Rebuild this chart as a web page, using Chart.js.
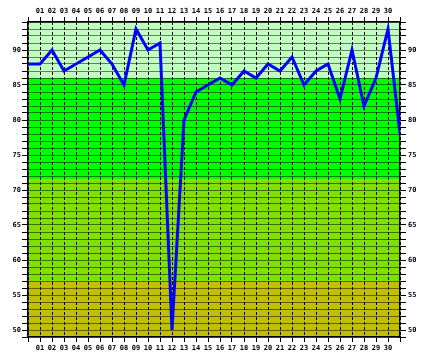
<!DOCTYPE html>
<html>
<head>
<meta charset="utf-8">
<script src="https://cdn.jsdelivr.net/npm/chart.js@4"></script>
<style>
html,body{margin:0;padding:0;background:#fff;}
canvas{display:block;}
</style>
</head>
<body>
<canvas id="c" width="429" height="360"></canvas>
<script>
// ---- data ----
const days = ['01','02','03','04','05','06','07','08','09','10','11','12','13','14','15','16','17','18','19','20','21','22','23','24','25','26','27','28','29','30'];
const values = [88,90,87,88,89,90,88,85,93,90,91,50,80,84,85,86,85,87,86,88,87,89,85,87,88,83,90,82,86,93];
const leadValue = 88;   // value at the left edge (before day 01)
const tailValue = 78;   // value at the right edge (after day 30)
const yMin = 49, yMax = 94;
const bandLimits = [49, 57, 71.5, 86, 94];
const bandColors = ['#c0c000', '#80e000', '#00ff00', '#c0ffc0'];

const points = [{x: 0, y: leadValue}]
  .concat(values.map((v, i) => ({x: i + 1, y: v})))
  .concat([{x: days.length + 1, y: tailValue}]);

const bandPlugin = {
  id: 'bands',
  beforeDraw(chart) {
    const {ctx, chartArea: a, scales: {y}} = chart;
    ctx.save();
    for (let i = 0; i < bandColors.length; i++) {
      const y1 = y.getPixelForValue(bandLimits[i + 1]);
      const y0 = y.getPixelForValue(bandLimits[i]);
      ctx.fillStyle = bandColors[i];
      ctx.fillRect(a.left, y1, a.right - a.left, y0 - y1);
    }
    ctx.restore();
  }
};

const font = {family: 'DejaVu Sans Mono', size: 7, weight: 'bold'};
const xTicks = {
  stepSize: 1, autoSkip: false, maxRotation: 0, minRotation: 0,
  color: '#000', font: font, padding: 2,
  callback: (v) => days[v - 1] || ''
};
const yTicks = {
  stepSize: 1, autoSkip: false, color: '#000', font: font, padding: 1,
  callback: (v) => (v % 5 === 0 ? String(v) : '')
};
const xGrid = {color: '#000', lineWidth: 1, tickColor: '#000', tickLength: 5};
const yGrid = {color: '#000', lineWidth: 1, tickColor: '#000', tickLength: 6};

new Chart(document.getElementById('c'), {
  type: 'line',
  data: {
    datasets: [{
      data: points,
      borderColor: '#0000ff',
      borderWidth: 3,
      pointRadius: 0,
      tension: 0,
      fill: false
    }]
  },
  options: {
    responsive: false,
    animation: false,
    devicePixelRatio: 1,
    layout: {padding: 0},
    plugins: {legend: {display: false}, tooltip: {enabled: false}},
    scales: {
      x: {
        type: 'linear', position: 'bottom', min: 0, max: days.length + 1,
        ticks: xTicks, grid: xGrid,
        border: {display: true, color: '#000', width: 1.5, dash: [3, 2]},
        afterFit: (s) => { s.height = 23; }
      },
      x2: {
        type: 'linear', position: 'top', min: 0, max: days.length + 1,
        ticks: xTicks, grid: Object.assign({}, xGrid, {drawOnChartArea: false}),
        border: {display: true, color: '#000', width: 1.5},
        afterFit: (s) => { s.height = 22; }
      },
      y: {
        type: 'linear', position: 'left', min: yMin, max: yMax,
        ticks: yTicks, grid: yGrid,
        border: {display: true, color: '#000', width: 1.5, dash: [1, 1]},
        afterFit: (s) => { s.width = 28; }
      },
      y2: {
        type: 'linear', position: 'right', min: yMin, max: yMax,
        ticks: Object.assign({}, yTicks, {padding: 2}),
        grid: Object.assign({}, yGrid, {drawOnChartArea: false}),
        border: {display: true, color: '#000', width: 1.5},
        afterFit: (s) => { s.width = 29; }
      }
    }
  },
  plugins: [bandPlugin]
});
</script>
</body>
</html>
